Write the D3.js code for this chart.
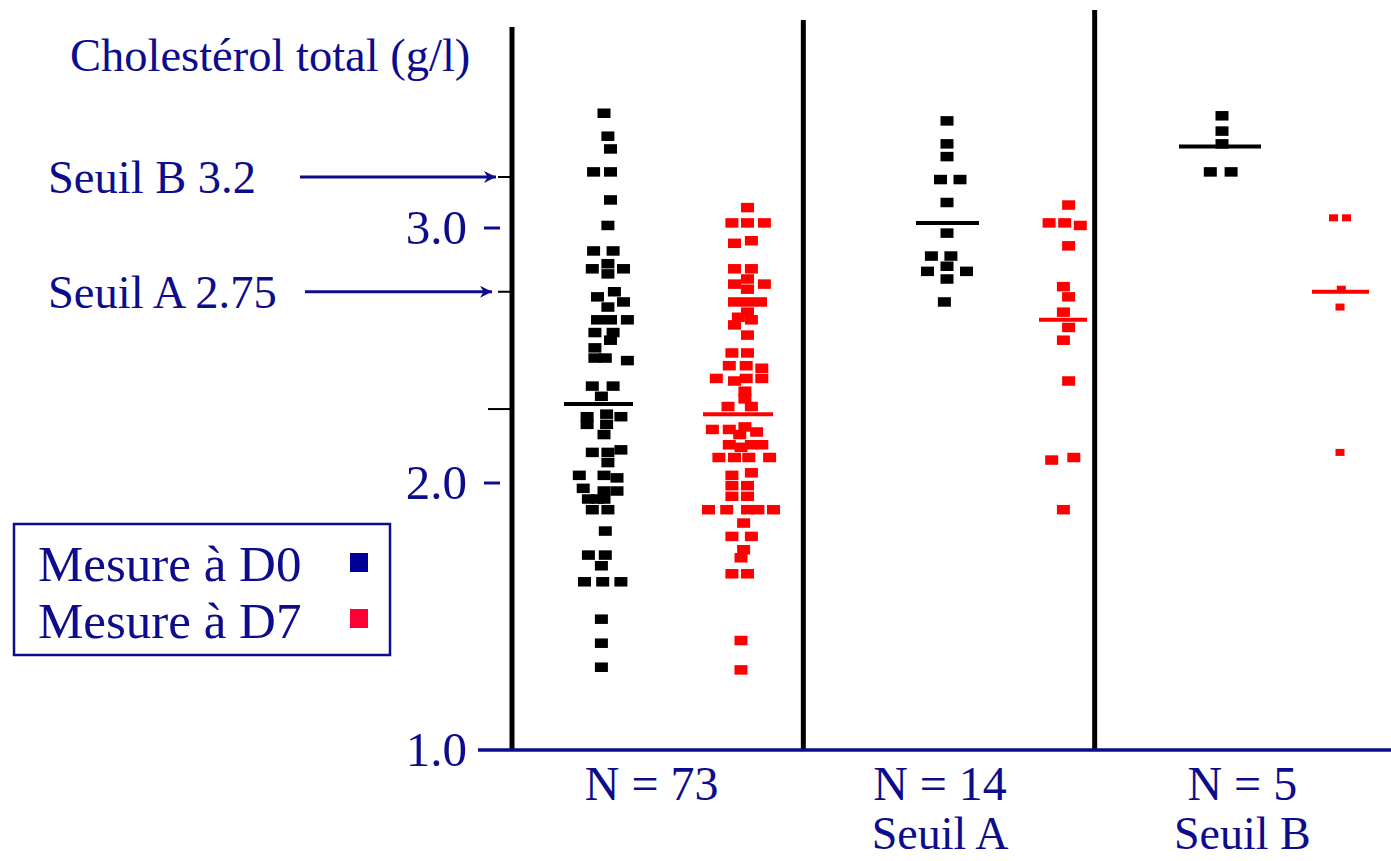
<!DOCTYPE html>
<html><head><meta charset="utf-8">
<script src="https://cdn.jsdelivr.net/npm/d3@7"></script>
<style>html,body{margin:0;padding:0;background:#fff;} svg{display:block}</style>
</head><body>
<svg id="chart" width="1391" height="861"></svg>
<script>
// ---------- DATA ----------
const groups = ["N = 73", "N = 14", "N = 5"];
const groupSubLabels = ["", "Seuil A", "Seuil B"];
const yTickValues = [1.0, 2.0, 3.0];
const thresholdLabels = ["Seuil B 3.2", "Seuil A 2.75"];
const thresholdValues = [3.2, 2.75];
const extraTickValues = [2.29];
const legendLabels = ["Mesure à D0", "Mesure à D7"];
const yTitle = "Cholestérol total (g/l)";

// each point: [value (g/l), jitter slot in marker widths]
const d0All = [[3.45,0],[3.36,0.3],[3.31,0.5],[3.22,-0.8],[3.22,0.5],[3.11,0.5],[3.01,0.3],[2.91,-0.8],[2.91,0.7],[2.84,-0.9],[2.86,0.3],[2.82,0.3],[2.84,1.5],[2.73,-0.5],[2.75,0.8],[2.69,0.3],[2.71,1.5],[2.64,-0.5],[2.64,0.5],[2.64,1.8],[2.59,-0.7],[2.59,0.7],[2.53,-0.7],[2.56,0.5],[2.49,-0.7],[2.49,0.1],[2.48,1.8],[2.38,-0.9],[2.38,0.7],[2.34,-0.2],[2.26,-1.3],[2.23,-1.3],[2.27,0.2],[2.23,0.2],[2.26,1.3],[2.19,0],[2.12,-0.9],[2.12,0.3],[2.08,0.3],[2.13,1.3],[2.03,-1.9],[2.03,0],[2.02,1.0],[1.98,-1.6],[1.97,1.0],[1.94,-1.2],[1.94,-0.5],[1.97,0],[1.94,0],[1.90,-0.9],[1.90,0.3],[1.82,0.1],[1.73,-1.2],[1.73,0.1],[1.69,-0.2],[1.63,-1.5],[1.63,-0.1],[1.63,1.3],[1.49,-0.2],[1.40,-0.2],[1.31,-0.2]];
const d7All = [[3.08,0.5],[3.02,-0.7],[3.02,0.5],[3.02,1.8],[2.94,-0.5],[2.95,0.8],[2.84,-0.5],[2.84,0.8],[2.78,-0.5],[2.80,0.5],[2.76,0.5],[2.78,1.8],[2.71,-0.5],[2.71,0.5],[2.71,1.5],[2.67,0.5],[2.65,-0.2],[2.64,0.8],[2.62,-0.5],[2.58,0.5],[2.51,-0.7],[2.51,0.5],[2.46,-0.9],[2.46,0.4],[2.45,1.6],[2.41,-1.9],[2.40,-0.5],[2.41,0.4],[2.41,1.6],[2.36,0.3],[2.33,0.3],[2.30,-1.0],[2.30,0.8],[2.21,-2.2],[2.21,-0.9],[2.22,0.3],[2.20,1.2],[2.19,-0.1],[2.15,-0.9],[2.15,0.8],[2.15,1.6],[2.14,0],[2.10,-1.7],[2.10,-0.5],[2.10,0.6],[2.10,2.2],[2.03,-0.7],[2.04,0.8],[1.99,-0.7],[1.99,0.5],[1.95,-0.7],[1.95,0.5],[1.90,-2.5],[1.90,-1.1],[1.90,0.5],[1.90,1.3],[1.90,2.5],[1.85,0.2],[1.80,-0.7],[1.80,0.8],[1.75,0.2],[1.72,0],[1.66,-0.7],[1.66,0.5],[1.41,0],[1.30,0]];
const d0SeuilA = [[3.42,0],[3.33,0],[3.28,0],[3.19,-0.5],[3.19,1.0],[3.10,0],[2.98,0],[2.89,-1.2],[2.89,0.3],[2.83,-1.5],[2.85,0],[2.83,1.5],[2.80,0],[2.71,-0.2]];
const d7SeuilA = [[3.09,0.2],[3.02,-1.3],[3.02,-0.1],[3.01,1.1],[2.93,0.2],[2.77,-0.2],[2.73,0.2],[2.67,-0.2],[2.61,0.2],[2.56,-0.2],[2.40,0.2],[2.09,-1.1],[2.10,0.6],[1.90,-0.2]];
const d0SeuilB = [[3.44,0],[3.38,0],[3.33,0],[3.22,-0.9],[3.22,0.7]];
const d7SeuilB = [[3.04,-0.5],[3.04,0.5],[2.76,0.1],[2.69,0],[2.12,0]];
const meanD0 = [2.31, 3.02, 3.32];
const meanD7 = [2.27, 2.64, 2.75];

// ---------- LAYOUT ----------
const W = 1391, H = 861;
const navy = "#0c0c8c";
const font = "'Liberation Serif','Times New Roman',serif";
const svg = d3.select("#chart");

const y = d3.scaleLinear().domain([1, 2, 3]).range([750, 483, 228]);
const xBand = d3.scaleBand().domain(groups).range([512, 1386]);
const colCenters = [604, 741, 947, 1066, 1222, 1340];
const xCol = d3.scaleLinear().domain(d3.range(6)).range(colCenters);
const jitter = d3.scaleLinear().domain([-1, 1]).range([-13, 13]);
const meanExt = [[-40, 29], [-38, 32], [-31, 32], [-27, 21], [-43, 39], [-28, 29]];
const markW = [13, 13, 13, 13, 13, 9], markH = [9.5, 9.5, 9.5, 9.5, 9.5, 7];

const series = [
  {data: d0All, col: 0, color: "#000", mean: meanD0[0]},
  {data: d7All, col: 1, color: "#ff0000", mean: meanD7[0]},
  {data: d0SeuilA, col: 2, color: "#000", mean: meanD0[1]},
  {data: d7SeuilA, col: 3, color: "#ff0000", mean: meanD7[1]},
  {data: d0SeuilB, col: 4, color: "#000", mean: meanD0[2]},
  {data: d7SeuilB, col: 5, color: "#ff0000", mean: meanD7[2]}
];

// vertical separators
const sepTop = [27, 20, 10];
svg.selectAll("line.sep").data(groups).enter().append("line")
  .attr("x1", d => xBand(d)).attr("x2", d => xBand(d))
  .attr("y1", (d, i) => sepTop[i]).attr("y2", y(1))
  .attr("stroke", "#000").attr("stroke-width", 5);

// bottom axis line
svg.append("line").attr("x1", 478).attr("x2", W).attr("y1", y(1)).attr("y2", y(1))
  .attr("stroke", navy).attr("stroke-width", 3.5);

// left ticks & labels
svg.selectAll("line.ytick").data(yTickValues.filter(v => v > 1)).enter().append("line")
  .attr("x1", 484).attr("x2", 500).attr("y1", d => y(d)).attr("y2", d => y(d))
  .attr("stroke", navy).attr("stroke-width", 3);
svg.selectAll("text.ytick").data(yTickValues).enter().append("text")
  .attr("x", 467).attr("y", d => y(d) + 16)
  .attr("text-anchor", "end").attr("font-family", font).attr("font-size", 49)
  .attr("fill", navy).text(d => d3.format(".1f")(d));

// black minor ticks
svg.selectAll("line.thr").data(thresholdValues.concat(extraTickValues)).enter().append("line")
  .attr("x1", (d, i) => i === 2 ? 488 : 498).attr("x2", 512)
  .attr("y1", d => y(d)).attr("y2", d => y(d))
  .attr("stroke", "#000").attr("stroke-width", 2);

// threshold labels & arrows
svg.append("defs").append("marker").attr("id", "ah")
  .attr("viewBox", "0 0 10 10").attr("refX", 10).attr("refY", 5)
  .attr("markerWidth", 5).attr("markerHeight", 4).attr("markerUnits", "strokeWidth")
  .attr("orient", "auto")
  .append("path").attr("d", "M0,0 L10,5 L0,10 L3,5 Z").attr("fill", navy);
const arrowStart = [300, 305], arrowEnd = [496, 492];
thresholdValues.forEach((v, i) => {
  svg.append("text").attr("x", 48).attr("y", y(v) + 16)
    .attr("font-family", font).attr("font-size", 46.5).attr("fill", navy)
    .text(thresholdLabels[i]);
  svg.append("line").attr("x1", arrowStart[i]).attr("x2", arrowEnd[i])
    .attr("y1", y(v)).attr("y2", y(v))
    .attr("stroke", navy).attr("stroke-width", 3).attr("marker-end", "url(#ah)");
});

// title
svg.append("text").attr("x", 70).attr("y", 71)
  .attr("font-family", font).attr("font-size", 46.5).attr("fill", navy).text(yTitle);

// points
series.forEach(s => {
  const w = markW[s.col], h = markH[s.col];
  svg.append("g").selectAll("rect").data(s.data).enter().append("rect")
    .attr("x", d => xCol(s.col) + jitter(d[1]) - w / 2)
    .attr("y", d => y(d[0]) - h / 2)
    .attr("width", w).attr("height", h).attr("fill", s.color);
  svg.append("line")
    .attr("x1", xCol(s.col) + meanExt[s.col][0]).attr("x2", xCol(s.col) + meanExt[s.col][1])
    .attr("y1", y(s.mean)).attr("y2", y(s.mean))
    .attr("stroke", s.color).attr("stroke-width", 4);
});

// group labels
const labelShift = [-6, -9, 2];
groups.forEach((g, i) => {
  const cx = xBand(g) + xBand.bandwidth() / 2 + labelShift[i];
  svg.append("text").attr("x", cx).attr("y", 800).attr("text-anchor", "middle")
    .attr("font-family", font).attr("font-size", 48).attr("fill", navy).text(g);
  if (groupSubLabels[i]) svg.append("text").attr("x", cx).attr("y", 849).attr("text-anchor", "middle")
    .attr("font-family", font).attr("font-size", 46).attr("fill", navy).text(groupSubLabels[i]);
});

// legend
svg.append("rect").attr("x", 14).attr("y", 524).attr("width", 376).attr("height", 131)
  .attr("fill", "none").attr("stroke", navy).attr("stroke-width", 2.5);
const legendColors = ["#000099", "#ff0033"];
legendLabels.forEach((l, i) => {
  svg.append("text").attr("x", 38).attr("y", 581 + i * 57)
    .attr("font-family", font).attr("font-size", 51).attr("fill", navy).text(l);
  svg.append("rect").attr("x", 350).attr("y", 553 + i * 56).attr("width", 18).attr("height", 19)
    .attr("fill", legendColors[i]);
});
</script>
</body></html>
